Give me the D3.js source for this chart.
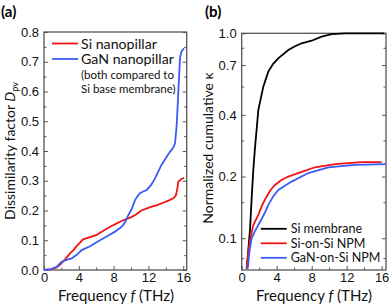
<!DOCTYPE html>
<html>
<head>
<meta charset="utf-8">
<script src="https://cdn.jsdelivr.net/npm/d3@7"></script>
<style>
body { margin: 0; background: #fff; }
svg { display: block; font-family: Lato, "Open Sans", sans-serif; }
.tick text { font-size: 13px; fill: #111; }
</style>
</head>
<body>
<div id="chart"></div>
<script>
// panel (a) - dissimilarity factor vs frequency
var siPillarF = [0, 0.8, 1.4, 1.84, 2.4, 2.99, 3.4, 3.75, 4.5, 5.2, 6.05, 7.0, 7.97, 8.8, 9.5, 9.9, 10.5, 11.2, 12.2, 13.0, 13.7, 14.3, 14.86, 15.15, 15.3, 15.44, 15.8, 16.1];
var siPillarD = [0, 0.002, 0.008, 0.017, 0.035, 0.056, 0.068, 0.08, 0.103, 0.11, 0.118, 0.135, 0.151, 0.163, 0.172, 0.176, 0.185, 0.2, 0.211, 0.218, 0.226, 0.233, 0.241, 0.25, 0.27, 0.297, 0.306, 0.31];
var ganPillarF = [0, 0.8, 1.46, 2.03, 2.6, 3.18, 3.8, 4.33, 5.29, 6.44, 7.3, 8.16, 8.7, 9.1, 9.4, 9.7, 10.08, 10.46, 10.8, 11.03, 11.4, 11.8, 12.3, 12.76, 13.5, 14.1, 14.5, 14.86, 15.06, 15.25, 15.44, 15.63, 15.8, 16.0, 16.1];
var ganPillarD = [0, 0.003, 0.011, 0.028, 0.034, 0.039, 0.052, 0.067, 0.08, 0.1, 0.114, 0.129, 0.14, 0.151, 0.165, 0.185, 0.205, 0.235, 0.25, 0.258, 0.264, 0.269, 0.285, 0.308, 0.353, 0.381, 0.398, 0.412, 0.426, 0.487, 0.6, 0.712, 0.735, 0.742, 0.745];

// panel (b) - normalized cumulative kappa (log axis)
var siMemF = [0.57, 0.95, 1.15, 1.33, 1.5, 1.9, 2.47, 3.04, 3.6, 4.18, 5.33, 6.1, 6.86, 8.0, 9.14, 10.3, 11.8, 13.5, 16.3];
var siMemK = [0.071, 0.11, 0.16, 0.216, 0.27, 0.422, 0.549, 0.65, 0.71, 0.755, 0.829, 0.865, 0.894, 0.92, 0.963, 0.99, 1.0, 1.0, 1.0];
var siNpmF = [0.57, 0.75, 0.95, 1.33, 1.9, 2.4, 2.86, 3.3, 3.81, 4.5, 5.33, 6.86, 8.38, 10.7, 13.7, 16.0];
var siNpmK = [0.071, 0.085, 0.098, 0.116, 0.13, 0.147, 0.16, 0.172, 0.182, 0.192, 0.2, 0.211, 0.222, 0.23, 0.235, 0.235];
var ganNpmF = [0.69, 0.9, 1.14, 1.5, 2.09, 2.6, 3.04, 3.6, 4.18, 5.71, 7.62, 9.9, 12.96, 16.5];
var ganNpmK = [0.071, 0.087, 0.1, 0.108, 0.12, 0.132, 0.145, 0.16, 0.172, 0.189, 0.208, 0.222, 0.228, 0.23];

var aYTicks = [0, 0.1, 0.2, 0.3, 0.4, 0.5, 0.6, 0.7, 0.8];
var aYMinor = [0.05, 0.15, 0.25, 0.35, 0.45, 0.55, 0.65, 0.75];
var xTicks = [0, 4, 8, 12, 16];
var xMinor = [2, 6, 10, 14];
var bYTicks = [1.0, 0.7, 0.4, 0.2, 0.1];
var bYMinor = [0.85, 0.55, 0.3, 0.15, 0.08];

var W = 389, H = 305;
var axisCol = "#555";
var red = "#f01414", blue = "#3a5cf5";

var svg = d3.select("#chart").append("svg")
    .attr("width", W)
    .attr("height", H);

function zip(xs, ys) {
    return xs.map(function(x, i) { return [x, ys[i]]; });
}

// draws box, inward ticks on left/bottom, mirrored on right
function frame(g, x, y, yTicks, yMinor, yFmt) {
    var w = x.range()[1], h = y.range()[0];
    g.append("g")
        .attr("transform", "translate(0," + h + ")")
        .call(d3.axisBottom(x).tickValues(xTicks).tickSizeInner(-4).tickSizeOuter(0).tickPadding(3));
    g.append("g")
        .attr("transform", "translate(0," + h + ")")
        .call(d3.axisBottom(x).tickValues(xMinor).tickSizeInner(-2.5).tickSizeOuter(0).tickFormat(""));
    g.append("g")
        .call(d3.axisLeft(y).tickValues(yTicks).tickSizeInner(-4).tickSizeOuter(0).tickPadding(5).tickFormat(yFmt));
    g.append("g")
        .call(d3.axisLeft(y).tickValues(yMinor).tickSizeInner(-2.5).tickSizeOuter(0).tickFormat(""));
    g.append("g")
        .attr("transform", "translate(" + w + ",0)")
        .call(d3.axisRight(y).tickValues(yTicks).tickSizeInner(-4).tickSizeOuter(0).tickFormat(""));
    g.append("g")
        .attr("transform", "translate(" + w + ",0)")
        .call(d3.axisRight(y).tickValues(yMinor).tickSizeInner(-2.5).tickSizeOuter(0).tickFormat(""));
    g.selectAll(".domain").remove();
    g.selectAll(".tick line").attr("stroke", axisCol).attr("stroke-width", 1);
    g.append("rect")
        .attr("width", w).attr("height", h)
        .attr("fill", "none")
        .attr("stroke", axisCol)
        .attr("stroke-width", 1.3);
}

/* ---------- panel (a) ---------- */
var ga = svg.append("g").attr("transform", "translate(44,32)");
var xa = d3.scaleLinear().domain([0, 16.4]).range([0, 142.7]);
var ya = d3.scaleLinear().domain([0, 0.8]).range([238, 0]);

frame(ga, xa, ya, aYTicks, aYMinor, d3.format(".1f"));

var lineA = d3.line()
    .x(function(d) { return xa(d[0]); })
    .y(function(d) { return ya(d[1]); });

ga.append("path").datum(zip(siPillarF, siPillarD))
    .attr("d", lineA).attr("fill", "none").attr("stroke", red).attr("stroke-width", 1.8);
ga.append("path").datum(zip(ganPillarF, ganPillarD))
    .attr("d", lineA).attr("fill", "none").attr("stroke", blue).attr("stroke-width", 1.8);

// legend a
var legA = [["Si nanopillar", red], ["GaN nanopillar", blue]];
legA.forEach(function(l, i) {
    var ly = 11.5 + i * 15.5;
    ga.append("line").attr("x1", 8).attr("x2", 34).attr("y1", ly).attr("y2", ly)
        .attr("stroke", l[1]).attr("stroke-width", 1.8);
    ga.append("text").attr("x", 37).attr("y", ly + 5).attr("font-size", 14.2).attr("fill", "#111").text(l[0]);
});
ga.append("text").attr("x", 37).attr("y", 46.5).attr("font-size", 11.5).attr("fill", "#111").text("(both compared to");
ga.append("text").attr("x", 37).attr("y", 60.5).attr("font-size", 11.5).attr("fill", "#111").text("Si base membrane)");

svg.append("text").attr("x", 1).attr("y", 17).attr("font-size", 15).attr("font-weight", "bold").text("(a)");

var ylabA = svg.append("text")
    .attr("transform", "translate(15,151) rotate(-90)")
    .attr("text-anchor", "middle").attr("font-size", 14).attr("fill", "#111");
ylabA.append("tspan").text("Dissimilarity factor ");
ylabA.append("tspan").attr("font-style", "italic").text("D");
ylabA.append("tspan").attr("font-size", 9).attr("dy", 3).text("pv");

var xlabA = svg.append("text").attr("x", 116).attr("y", 301)
    .attr("text-anchor", "middle").attr("font-size", 15).attr("fill", "#111");
xlabA.append("tspan").text("Frequency ");
xlabA.append("tspan").attr("font-style", "italic").text("f");
xlabA.append("tspan").text(" (THz)");

/* ---------- panel (b) ---------- */
var gb = svg.append("g").attr("transform", "translate(241.7,33.3)");
var xb = d3.scaleLinear().domain([0, 16.5]).range([0, 144.3]);
var yb = d3.scaleLog().domain([0.07, 1.0]).range([236.7, 0]);

frame(gb, xb, yb, bYTicks, bYMinor, d3.format(".1f"));

var lineB = d3.line()
    .x(function(d) { return xb(d[0]); })
    .y(function(d) { return yb(d[1]); });

gb.append("path").datum(zip(siMemF, siMemK))
    .attr("d", lineB).attr("fill", "none").attr("stroke", "#000").attr("stroke-width", 1.8);
gb.append("path").datum(zip(siNpmF, siNpmK))
    .attr("d", lineB).attr("fill", "none").attr("stroke", red).attr("stroke-width", 1.8);
gb.append("path").datum(zip(ganNpmF, ganNpmK))
    .attr("d", lineB).attr("fill", "none").attr("stroke", blue).attr("stroke-width", 1.8);

var legB = [["Si membrane", "#000"], ["Si-on-Si NPM", red], ["GaN-on-Si NPM", blue]];
legB.forEach(function(l, i) {
    var ly = 195.5 + i * 14.5;
    gb.append("line").attr("x1", 19).attr("x2", 45).attr("y1", ly).attr("y2", ly)
        .attr("stroke", l[1]).attr("stroke-width", 1.8);
    gb.append("text").attr("x", 49).attr("y", ly + 4.5).attr("font-size", 12.5).attr("fill", "#111").text(l[0]);
});

svg.append("text").attr("x", 205).attr("y", 17).attr("font-size", 15).attr("font-weight", "bold").text("(b)");

svg.append("text")
    .attr("transform", "translate(213,148) rotate(-90)")
    .attr("text-anchor", "middle").attr("font-size", 14).attr("fill", "#111")
    .text("Normalized cumulative \u03ba");

var xlabB = svg.append("text").attr("x", 314).attr("y", 301)
    .attr("text-anchor", "middle").attr("font-size", 15).attr("fill", "#111");
xlabB.append("tspan").text("Frequency ");
xlabB.append("tspan").attr("font-style", "italic").text("f");
xlabB.append("tspan").text(" (THz)");
</script>
</body>
</html>
